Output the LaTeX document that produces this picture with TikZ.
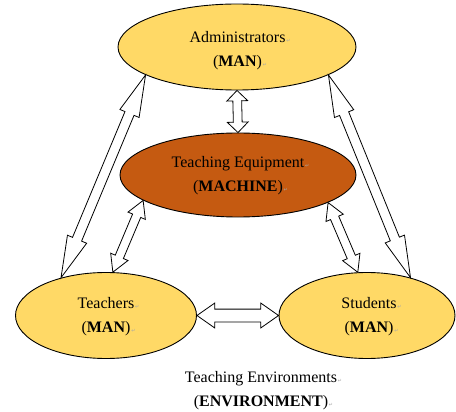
\documentclass[tikz,border=0pt]{standalone}
\usepackage{fontspec}
\setmainfont{Liberation Serif}
\newfontfamily\symfont{DejaVu Sans}
\usetikzlibrary{shapes.geometric,shapes.arrows,calc}
\definecolor{goldfill}{HTML}{FFD966}
\definecolor{rustfill}{HTML}{C55A11}
\tikzset{
  oval/.style={ellipse, draw=black, line width=0.9pt, inner sep=0pt},
  lbl/.style={align=center, font=\fontsize{16}{24}\selectfont, inner sep=0pt},
  blockarr/.style={double arrow, draw=black, fill=white, line width=0.8pt,
    inner xsep=0pt, minimum width=0pt, double arrow head indent=0pt},
}
\newcommand\pmark{\rlap{\symfont\fontsize{5}{5}\selectfont\color{gray!70}\,↵}}
\newcommand\linkarrow[5]{%
  \path let \p1=(#1), \p2=(#2),
    \n1={atan2(\y2-\y1,\x2-\x1)}, \n2={veclen(\x2-\x1,\y2-\y1)} in
    node[blockarr, rotate=\n1, minimum height=\n2, inner ysep={(#3)/2},
      double arrow head extend={(#4-#3)/2}, double arrow tip angle=#5]
      at ($(\p1)!0.5!(\p2)$) {};
}
\begin{document}
\begin{tikzpicture}[x=1pt,y=-1pt]
\useasboundingbox (0,0) rectangle (456,412);
% ellipses
\node[oval, fill=goldfill, minimum width=238pt, minimum height=86pt] (adm) at (237,47) {};
\node[oval, fill=rustfill, minimum width=236pt, minimum height=84pt] (equip) at (238,175) {};
\node[oval, fill=goldfill, minimum width=181pt, minimum height=86pt] (teach) at (106,315.5) {};
\node[oval, fill=goldfill, minimum width=176pt, minimum height=86pt] (stud) at (367,315.5) {};
% texts
\node[lbl] (admtxt) at (237.5,51) {Administrators\pmark\\(\textbf{MAN})\pmark};
\node[lbl] (equiptxt) at (238,176) {Teaching Equipment\pmark\\(\textbf{MACHINE})\pmark};
\node[lbl] (teachtxt) at (106,317) {Teachers\pmark\\(\textbf{MAN})\pmark};
\node[lbl] (studtxt) at (369,317) {Students\pmark\\(\textbf{MAN})\pmark};
\node[lbl] (envtxt) at (261,391) {Teaching Environments\pmark\\(\textbf{ENVIRONMENT})\pmark};
% arrows
\linkarrow{adm.197.5}{teach.140.6}{9pt}{20pt}{28}
\linkarrow{adm.343.6}{stud.41.6}{9pt}{20pt}{28}
\linkarrow{equip.195.8}{teach.81}{8pt}{18pt}{59}
\linkarrow{equip.343.3}{stud.102}{8pt}{18pt}{59}
\linkarrow{adm.south}{equip.north}{8pt}{20pt}{90}
\linkarrow{teach.east}{stud.west}{12pt}{24pt}{70}
\end{tikzpicture}
\end{document}
